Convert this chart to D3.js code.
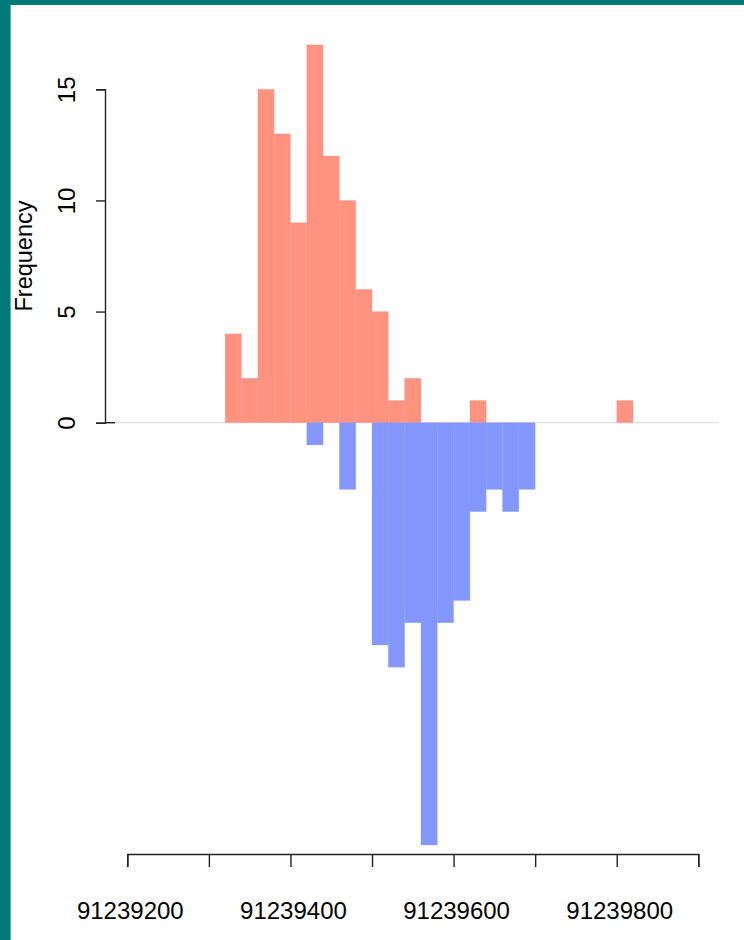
<!DOCTYPE html>
<html>
<head>
<meta charset="utf-8">
<script src="https://cdn.jsdelivr.net/npm/d3@7"></script>
<style>
  body { margin: 0; background: #fff; }
  svg { display: block; font-family: "Liberation Sans", Arial, Helvetica, sans-serif; }
</style>
</head>
<body>
<div id="chart"></div>
<script>
// bin left edges (width 20) and counts
const binWidth = 20
const redBins = [91239320, 91239340, 91239360, 91239380, 91239400, 91239420, 91239440,
  91239460, 91239480, 91239500, 91239520, 91239540, 91239620, 91239800]
const redCounts = [4, 2, 15, 13, 9, 17, 12, 10, 6, 5, 1, 2, 1, 1]

const blueBins = [91239420, 91239460, 91239500, 91239520, 91239540, 91239560, 91239580,
  91239600, 91239620, 91239640, 91239660, 91239680]
const blueCounts = [1, 3, 10, 11, 9, 19, 9, 8, 4, 3, 4, 3]

const xTicks = [91239200, 91239300, 91239400, 91239500, 91239600, 91239700, 91239800, 91239900]
const xTickLabels = [91239200, 91239400, 91239600, 91239800]
const yTicks = [0, 5, 10, 15]
const zeroRange = [91239185, 91239925]

const width = 744
const height = 940

const svg = d3.select("#chart").append("svg")
  .attr("width", width).attr("height", height)

// teal frame on top and left
svg.append("rect").attr("x", 0).attr("y", 0).attr("width", width).attr("height", 5).attr("fill", "#007a78")
svg.append("rect").attr("x", 0).attr("y", 0).attr("width", 10).attr("height", height).attr("fill", "#007a78")
svg.append("rect").attr("x", 10).attr("y", 5).attr("width", 1).attr("height", height).attr("fill", "#5fb0ad")

// scales
const x = d3.scaleLinear()
  .domain([91239200, 91239900])
  .range([127.3, 698.3])

const y = d3.scaleLinear()
  .domain([0, 15])
  .range([422.7, 89.3])

// zero line
svg.append("line")
  .attr("x1", x(zeroRange[0])).attr("x2", x(zeroRange[1]))
  .attr("y1", y(0)).attr("y2", y(0))
  .attr("stroke", "#e4e0e4").attr("stroke-width", 1.2)

// red bars (upwards)
svg.append("g")
  .selectAll("rect")
  .data(redBins.map((b, i) => ({ x0: b, n: redCounts[i] })))
  .enter().append("rect")
    .attr("x", d => x(d.x0))
    .attr("width", d => x(d.x0 + binWidth) - x(d.x0))
    .attr("y", d => y(d.n))
    .attr("height", d => y(0) - y(d.n))
    .attr("fill", "#ff9380")
    .attr("stroke", "rgba(200,150,150,0.25)")
    .attr("stroke-width", 0.8)

// blue bars (downwards)
svg.append("g")
  .selectAll("rect")
  .data(blueBins.map((b, i) => ({ x0: b, n: blueCounts[i] })))
  .enter().append("rect")
    .attr("x", d => x(d.x0))
    .attr("width", d => x(d.x0 + binWidth) - x(d.x0))
    .attr("y", y(0))
    .attr("height", d => y(-d.n) - y(0))
    .attr("fill", "#8497ff")
    .attr("stroke", "rgba(140,150,220,0.3)")
    .attr("stroke-width", 0.8)

// short dark piece left of the zero line
svg.append("line")
  .attr("x1", 105).attr("x2", 115)
  .attr("y1", y(0)).attr("y2", y(0))
  .attr("stroke", "#222").attr("stroke-width", 1.4)

// y axis
const yAxis = svg.append("g")
  .attr("transform", "translate(105,0)")
  .call(d3.axisLeft(y).tickValues(yTicks).tickSize(9).tickFormat(d3.format("d")))
yAxis.select(".domain").attr("stroke", "#222").attr("stroke-width", 1.4)
yAxis.selectAll(".tick line").attr("stroke", "#222").attr("stroke-width", 1.4)
yAxis.selectAll(".tick text")
  .attr("x", null).attr("dy", null)
  .attr("transform", "translate(-30,0) rotate(-90)")
  .attr("text-anchor", "middle")
  .attr("font-size", 24)
  .attr("fill", "#000")

svg.append("text")
  .attr("transform", `translate(32,${(y(0) + y(15)) / 2}) rotate(-90)`)
  .attr("text-anchor", "middle")
  .attr("font-size", 23.5)
  .text("Frequency")

// x axis
const xAxis = svg.append("g")
  .attr("transform", "translate(0,854)")
  .call(d3.axisBottom(x).tickValues(xTicks).tickSize(13).tickFormat(""))
xAxis.select(".domain").attr("stroke", "#222").attr("stroke-width", 1.4)
xAxis.selectAll(".tick line").attr("stroke", "#222").attr("stroke-width", 1.4)

svg.append("g")
  .selectAll("text")
  .data(xTickLabels)
  .enter().append("text")
    .attr("x", d => x(d) + 3)
    .attr("y", 919)
    .attr("text-anchor", "middle")
    .attr("font-size", 24)
    .text(d => d)
</script>
</body>
</html>
